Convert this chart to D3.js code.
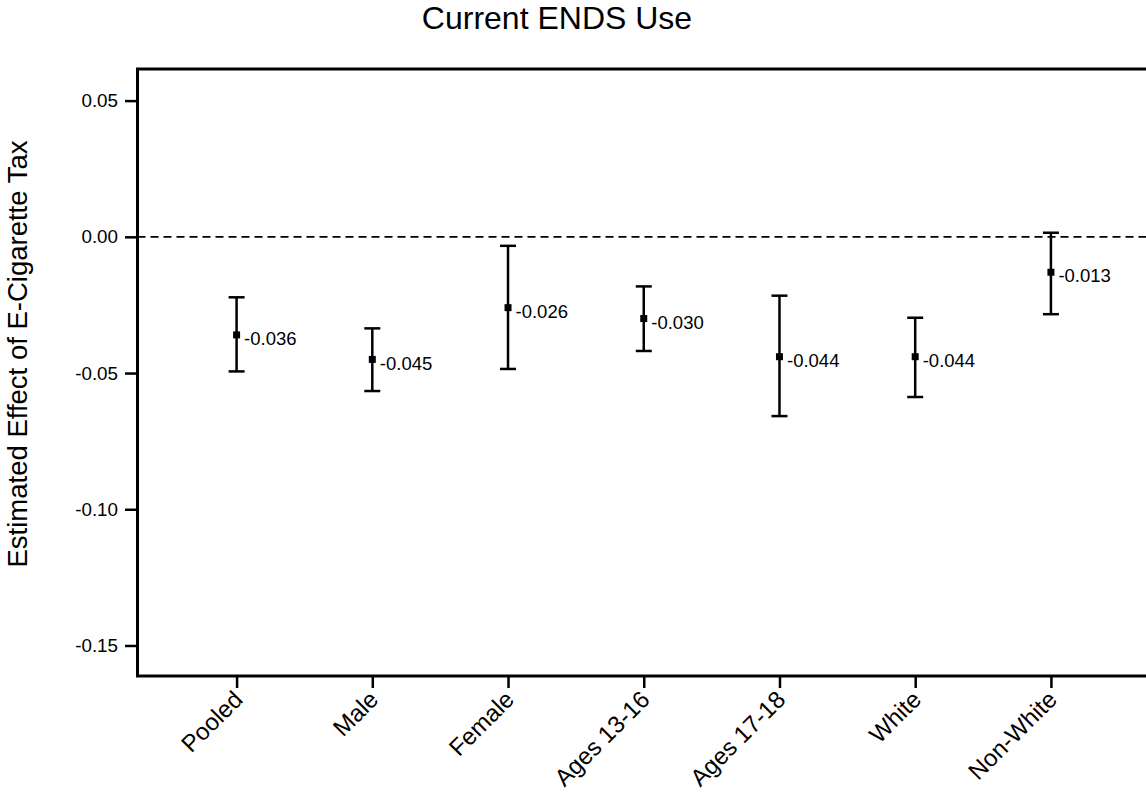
<!DOCTYPE html>
<meta charset="utf-8">
<style>

body {
  margin: 0;
  background: #fff;
}

text {
  font-family: "Liberation Sans", Arial, Helvetica, sans-serif;
  fill: #000;
}

.axis path {
  display: none;
}

.axis line {
  stroke: #000;
  stroke-width: 2.5;
}

.axis text {
  font-size: 18.8px;
}

.axis--x text {
  font-size: 24px;
}

.frame {
  fill: none;
  stroke: #000;
  stroke-width: 3;
}

.zero {
  stroke: #000;
  stroke-width: 1.8;
  stroke-dasharray: 8,5;
}

.bar {
  stroke: #000;
  stroke-width: 2.5;
}

</style>
<svg width="1146" height="792"></svg>
<script src="https://d3js.org/d3.v7.min.js"></script>
<script>

var categories = ["Pooled", "Male", "Female", "Ages 13-16", "Ages 17-18", "White", "Non-White"];
var estimates = [-0.036, -0.045, -0.026, -0.030, -0.044, -0.044, -0.013];
var ciLower = [-0.0494, -0.0566, -0.0485, -0.0419, -0.0658, -0.0588, -0.0284];
var ciUpper = [-0.0222, -0.0336, -0.0033, -0.0182, -0.0216, -0.0297, 0.0015];
var yTicks = [0.05, 0.00, -0.05, -0.10, -0.15];

var rows = categories.map(function(c, i) {
  return {name: c, pos: i + 1, est: estimates[i], lo: ciLower[i], hi: ciUpper[i]};
});

var svg = d3.select("svg");

var plotLeft = 137.5, plotRight = 1150, plotTop = 69, plotBottom = 676;

var x = d3.scaleLinear()
    .domain([0.27, 7.73])
    .range([plotLeft, plotRight]);

var y = d3.scaleLinear()
    .domain([0.0616, -0.1612])
    .range([plotTop, plotBottom]);

// title
svg.append("text")
    .attr("x", 557)
    .attr("y", 29)
    .attr("text-anchor", "middle")
    .style("font-size", "32px")
    .text("Current ENDS Use");

// y label
svg.append("text")
    .attr("transform", "translate(27,354) rotate(-90)")
    .attr("text-anchor", "middle")
    .style("font-size", "27.5px")
    .text("Estimated Effect of E-Cigarette Tax");

svg.append("line")
    .attr("class", "zero")
    .attr("x1", plotLeft)
    .attr("x2", plotRight)
    .attr("y1", y(0))
    .attr("y2", y(0));

svg.append("rect")
    .attr("class", "frame")
    .attr("x", plotLeft)
    .attr("y", plotTop)
    .attr("width", plotRight - plotLeft)
    .attr("height", plotBottom - plotTop);

svg.append("g")
    .attr("class", "axis axis--y")
    .attr("transform", "translate(" + plotLeft + ",0)")
    .call(d3.axisLeft(y)
        .tickValues(yTicks)
        .tickFormat(function(d) { return d.toFixed(2); })
        .tickSize(12.5)
        .tickPadding(7));

var gX = svg.append("g")
    .attr("class", "axis axis--x")
    .attr("transform", "translate(0," + plotBottom + ")")
    .call(d3.axisBottom(x)
        .tickValues(rows.map(function(d) { return d.pos; }))
        .tickFormat(function(d) { return categories[d - 1]; })
        .tickSize(12));

gX.selectAll("text")
    .attr("x", 0)
    .attr("y", 0)
    .attr("dy", 0)
    .attr("text-anchor", "end")
    .attr("transform", "translate(7,25) rotate(-45)");

// error bars
var g = svg.append("g");

g.selectAll(".bar")
    .data(rows)
  .enter().append("line")
    .attr("class", "bar")
    .attr("x1", function(d) { return x(d.pos); })
    .attr("x2", function(d) { return x(d.pos); })
    .attr("y1", function(d) { return y(d.lo); })
    .attr("y2", function(d) { return y(d.hi); });

["lo", "hi"].forEach(function(k) {
  g.selectAll(".cap-" + k)
      .data(rows)
    .enter().append("line")
      .attr("class", "bar cap-" + k)
      .attr("x1", function(d) { return x(d.pos) - 8; })
      .attr("x2", function(d) { return x(d.pos) + 8; })
      .attr("y1", function(d) { return y(d[k]); })
      .attr("y2", function(d) { return y(d[k]); });
});

g.selectAll(".pt")
    .data(rows)
  .enter().append("rect")
    .attr("class", "pt")
    .attr("x", function(d) { return x(d.pos) - 3.5; })
    .attr("y", function(d) { return y(d.est) - 3.5; })
    .attr("width", 7)
    .attr("height", 7)
    .attr("fill", "#000");

g.selectAll(".val")
    .data(rows)
  .enter().append("text")
    .attr("class", "val")
    .attr("x", function(d) { return x(d.pos) + 7.5; })
    .attr("y", function(d) { return y(d.est); })
    .attr("dy", "0.55em")
    .style("font-size", "18.5px")
    .text(function(d) { return d.est.toFixed(3); });

</script>
